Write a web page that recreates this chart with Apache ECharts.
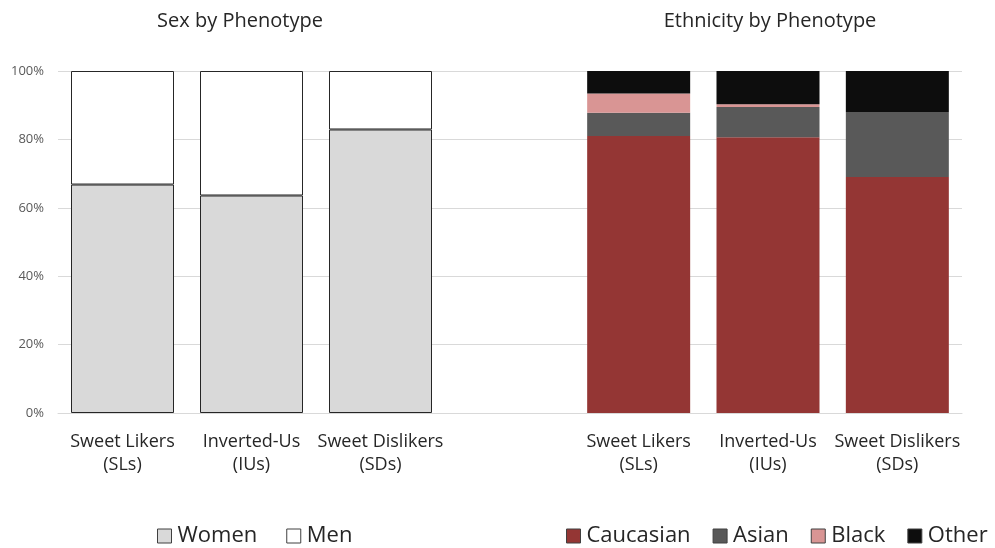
<!DOCTYPE html>
<html>
<head>
<meta charset="utf-8">
<script src="https://cdn.jsdelivr.net/npm/echarts@6/dist/echarts.min.js"></script>
<style>
html,body{margin:0;padding:0;background:#fff;}
#chart{width:995px;height:548px;}
</style>
</head>
<body>
<div id="chart"></div>
<script>
// Categories
const phenotypes = ['Sweet Likers\n(SLs)', 'Inverted-Us\n(IUs)', 'Sweet Dislikers\n(SDs)'];
const yTicks = [0, 20, 40, 60, 80, 100];

// Sex by Phenotype (%)
const women = [66.8, 63.6, 82.9];
const men = [33.2, 36.4, 17.1];

// Ethnicity by Phenotype (%)
const caucasian = [81.0, 80.6, 69.0];
const asian = [6.8, 8.9, 19.0];
const black = [5.6, 0.8, 0];
const other = [6.6, 9.7, 12.0];

const FONT = 'Open Sans';
const chart = echarts.init(document.getElementById('chart'), null, {renderer: 'canvas'});

const yBase = {
  type: 'value', min: 0, max: 100, interval: 20,
  axisLine: {show: false}, axisTick: {show: false},
  splitLine: {lineStyle: {color: '#D9D9D9', width: 1}}
};
const xBase = {
  type: 'category',
  axisLine: {lineStyle: {color: '#D9D9D9', width: 1}},
  axisTick: {show: false},
  axisLabel: {color: '#262626', fontFamily: FONT, fontSize: 18, lineHeight: 23, margin: 17, interval: 0}
};

const leftBar = {barWidth: 103, stack: 'sex', xAxisIndex: 0, yAxisIndex: 0};
const rightBar = {barWidth: 103, stack: 'eth', xAxisIndex: 1, yAxisIndex: 1};
const legendText = {fontFamily: FONT, fontSize: 22, color: '#262626', padding: [0, 0, 0, 1]};

chart.setOption({
  animation: false,
  textStyle: {fontFamily: FONT},
  title: [
    {text: 'Sex by Phenotype', left: 240, top: 11, padding: 0, textAlign: 'center',
     textStyle: {fontFamily: FONT, fontSize: 20, fontWeight: 'normal', color: '#262626'}},
    {text: 'Ethnicity by Phenotype', left: 770, top: 11, padding: 0, textAlign: 'center',
     textStyle: {fontFamily: FONT, fontSize: 20, fontWeight: 'normal', color: '#262626'}}
  ],
  legend: [
    {data: ['Women', 'Men'], left: 157, top: 525, icon: 'rect', itemWidth: 14, itemHeight: 14, itemGap: 29,
     padding: 0, textStyle: legendText,
     itemStyle: {borderColor: '#404040', borderWidth: 1}},
    {data: ['Caucasian', 'Asian', 'Black', 'Other'], left: 566, top: 525, icon: 'rect', itemWidth: 14, itemHeight: 14, itemGap: 22,
     padding: 0, textStyle: legendText,
     itemStyle: {borderColor: '#404040', borderWidth: 1}}
  ],
  grid: [
    {left: 58, width: 516, top: 71, bottom: 135},
    {left: 574, width: 388, top: 71, bottom: 135}
  ],
  xAxis: [
    Object.assign({}, xBase, {gridIndex: 0, data: phenotypes.concat([''])}),
    Object.assign({}, xBase, {gridIndex: 1, data: phenotypes})
  ],
  yAxis: [
    Object.assign({}, yBase, {gridIndex: 0,
      axisLabel: {color: '#595959', fontFamily: FONT, fontSize: 13, margin: 14,
        formatter: v => yTicks.includes(v) ? v + '%' : ''}}),
    Object.assign({}, yBase, {gridIndex: 1, axisLabel: {show: false}})
  ],
  series: [
    Object.assign({type: 'bar', name: 'Women', data: women,
      itemStyle: {color: '#D9D9D9', borderColor: '#262626', borderWidth: 1}}, leftBar),
    Object.assign({type: 'bar', name: 'Men', data: men,
      itemStyle: {color: '#FFFFFF', borderColor: '#262626', borderWidth: 1}}, leftBar),
    Object.assign({type: 'bar', name: 'Caucasian', data: caucasian,
      itemStyle: {color: '#943634'}}, rightBar),
    Object.assign({type: 'bar', name: 'Asian', data: asian,
      itemStyle: {color: '#595959'}}, rightBar),
    Object.assign({type: 'bar', name: 'Black', data: black,
      itemStyle: {color: '#D99594'}}, rightBar),
    Object.assign({type: 'bar', name: 'Other', data: other,
      itemStyle: {color: '#0D0D0D'}}, rightBar)
  ]
});
</script>
</body>
</html>
